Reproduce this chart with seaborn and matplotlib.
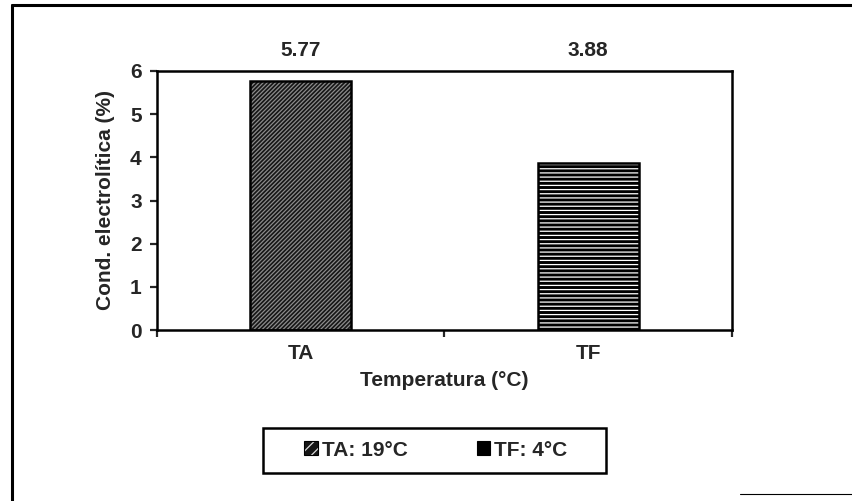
import matplotlib
matplotlib.use("Agg")
import matplotlib.pyplot as plt
import seaborn as sns
import pandas as pd
from matplotlib.patches import Patch, Rectangle
from matplotlib.lines import Line2D

categories = ["TA", "TF"]
values = [5.77, 3.88]
value_labels = ["5.77", "3.88"]
legend_labels = ["TA: 19°C", "TF: 4°C"]
y_ticks = [0, 1, 2, 3, 4, 5, 6]

sns.set_theme(style="white")
plt.rcParams["font.family"] = ["Liberation Sans", "DejaVu Sans"]
plt.rcParams["font.weight"] = "bold"
plt.rcParams["hatch.linewidth"] = 0.9

FS = 15

W, H = 853, 501
fig = plt.figure(figsize=(8.53, 5.01), dpi=100)
ax = fig.add_axes([157/W, 1-330/H, (732-157)/W, (330-71)/H])

df = pd.DataFrame({"cat": categories, "val": values})
sns.barplot(data=df, x="cat", y="val", ax=ax, width=0.35, color="white")

styles = [
    dict(face="#161616", hatch="////////", hcol="#8c8c8c"),
    dict(face="#000000", hatch="----", hcol="#ffffff"),
]
for p, st in zip(ax.patches, styles):
    p.set_facecolor(st["face"])
    p.set_edgecolor("black")
    p.set_linewidth(1.8)
    p.set_hatch(st["hatch"])
    p._hatch_color = matplotlib.colors.to_rgba(st["hcol"])

ax.set_ylim(0, 6)
ax.set_xlim(-0.5, 1.5)
ax.set_yticks(y_ticks)
ax.set_yticklabels([str(t) for t in y_ticks], fontsize=FS, fontweight="bold")
ax.set_xticks([0, 1])
ax.set_xticklabels(categories, fontsize=FS, fontweight="bold")
ax.set_xticks([-0.5, 0.5, 1.5], minor=True)
ax.tick_params(axis="x", which="major", length=0, pad=10)
ax.tick_params(axis="x", which="minor", length=5, width=1.6, direction="out", bottom=True)
ax.tick_params(axis="y", which="major", length=5, width=1.6, direction="out", left=True, pad=6)

for s in ax.spines.values():
    s.set_visible(True)
    s.set_color("black")
    s.set_linewidth(1.8)

ax.set_xlabel("Temperatura (°C)", fontsize=FS, fontweight="bold", labelpad=6)
ax.set_ylabel("Cond. electrolítica (%)", fontsize=FS, fontweight="bold", labelpad=11)

for i, lab in enumerate(value_labels):
    ax.annotate(lab, xy=(i, 1.081), xycoords=("data", "axes fraction"),
                ha="center", va="center", fontsize=FS, fontweight="bold")

handles = [
    Patch(facecolor=styles[0]["face"], edgecolor="black", hatch="///", linewidth=0.8),
    Patch(facecolor="black", edgecolor="black", linewidth=0.8),
]
leg = fig.legend(handles, legend_labels, loc="center", bbox_to_anchor=(436/W, 1-450/H),
                 ncol=2, frameon=False,
                 prop={"weight": "bold", "size": FS},
                 handlelength=0.65, handleheight=0.65, handletextpad=0.2,
                 columnspacing=3.3, borderpad=0.3, borderaxespad=0)
leg.legend_handles[0]._hatch_color = matplotlib.colors.to_rgba("#dddddd")
fig.add_artist(Rectangle((263/W, 1-473/H), (606-263)/W, (473-428)/H, transform=fig.transFigure,
                         facecolor="none", edgecolor="black", linewidth=1.8))

# outer scanned frame
fig.add_artist(Line2D([12/W, 1], [1-5/H, 1-5/H], color="black", lw=2.2, transform=fig.transFigure))
fig.add_artist(Line2D([12/W, 12/W], [1-5/H, 0], color="black", lw=2.2, transform=fig.transFigure))
fig.add_artist(Line2D([740/W, 1], [1-494/H, 1-494/H], color="black", lw=0.8, transform=fig.transFigure))

fig.savefig("out.png", dpi=100)
